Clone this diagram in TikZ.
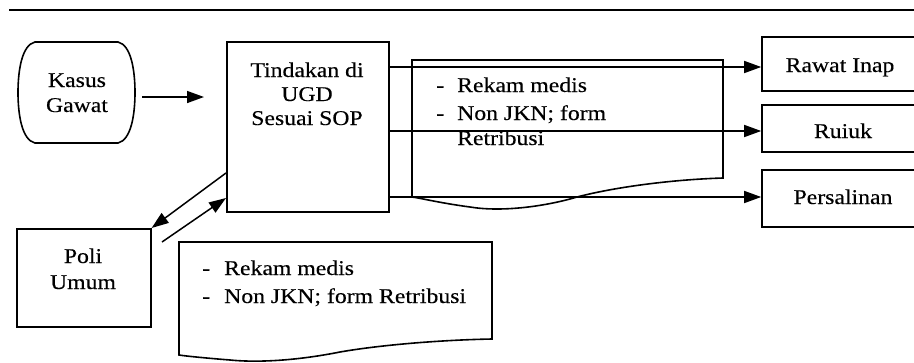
\documentclass[tikz,border=0pt]{standalone}
\usepackage{fontspec}
\setmainfont{Liberation Serif}[FakeStretch=1.13,FakeBold=0.3]
\usetikzlibrary{arrows.meta}
\begin{document}
\begin{tikzpicture}[x=1pt,y=-1pt,
  box/.style={draw, line width=1.6pt, inner sep=0pt},
  arr/.style={-{Triangle[length=17pt,width=12pt]}, line width=1.5pt},
  doc/.style={draw, line width=1.6pt},
  txt/.style={font=\fontsize{21}{24}\selectfont, inner sep=0pt, anchor=base},
  txtl/.style={font=\fontsize{21}{24}\selectfont, inner sep=0pt, anchor=base west}]
\useasboundingbox (0,0) rectangle (914,362);
\clip (0,0) rectangle (914,362);
% top rule
\draw[line width=2pt] (9,10) -- (916,10);

% Kasus Gawat (terminator-like shape)
\node[minimum width=117pt, minimum height=101pt, inner sep=0pt] (kasus) at (76.5,92.5) {};
\draw[line width=1.6pt] (35,42) -- (118,42)
  .. controls (131,45) and (135,70) .. (135,92.5)
  .. controls (135,115) and (131,140) .. (118,143) -- (35,143)
  .. controls (22,140) and (18,115) .. (18,92.5)
  .. controls (18,70) and (22,45) .. (35,42) -- cycle;
\node[txt] (kasus1) at (77,87) {Kasus};
\node[txt] (kasus2) at (77,112) {Gawat};
\coordinate (kasusend) at (204,97);
\draw[arr] ([xshift=7pt]kasus.east |- kasusend) -- (kasusend);

% Tindakan
\node[box, minimum width=162pt, minimum height=170pt, anchor=north west] (tind) at (226,41) {};
\node[txt] (tind1) at (307,77) {Tindakan di};
\node[txt] (tind2) at (307,101) {UGD};
\node[txt] (tind3) at (307,125) {Sesuai SOP};

% middle document
\draw[doc, fill=white] (412,197) -- (412,60) -- (723,60) -- (723,178)
  .. controls (660,180) and (600,190) .. (570,199)
  .. controls (540,207) and (500,212) .. (470,207)
  .. controls (440,203) and (420,198) .. (412,197) -- cycle;
\node[txtl] (m1d) at (436,92) {-};
\node[txtl] (m1) at (457,92) {Rekam medis};
\node[txtl] (m2d) at (436,120) {-};
\node[txtl] (m2) at (457,120) {Non JKN; form};
\node[txtl] (m3) at (457,145) {Retribusi};

% right boxes
\node[box, minimum width=156pt, minimum height=54pt] (rawat) at (840,64) {};
\node[txt] (rawatt) at (840,72) {Rawat Inap};
\node[box, minimum width=156pt, minimum height=47pt] (ruiuk) at (840,128.5) {};
\node[txt] (ruiukt) at (843,138) {Ruiuk};
\node[box, minimum width=156pt, minimum height=57pt] (persal) at (840,198.5) {};
\node[txt] (persalt) at (843,204) {Persalinan};

\draw[arr] (tind.east |- 0,67) -- (rawat.west |- 0,67);
\draw[arr] (tind.east |- 0,131) -- (ruiuk.west |- 0,131);
\draw[arr] (tind.east |- 0,197) -- (persal.west |- 0,197);

% Poli Umum
\node[box, minimum width=134pt, minimum height=98pt, anchor=north west] (poli) at (16,228) {};
\node[txt] (poli1) at (83,263) {Poli};
\node[txt] (poli2) at (83,289) {Umum};

\coordinate (polistart) at (162,242);
\draw[arr] (tind.west |- 0,173) -- (poli.north east);
\draw[arr] (polistart) -- (tind.west |- 0,198);

% bottom document
\draw[doc] (179,355) -- (179,242) -- (492,242) -- (492,339)
  .. controls (440,340) and (380,345) .. (340,352)
  .. controls (300,360) and (260,363) .. (230,360)
  .. controls (205,358) and (185,356) .. (179,355) -- cycle;
\node[txtl] (b1d) at (202,275) {-};
\node[txtl] (b1) at (224,275) {Rekam medis};
\node[txtl] (b2d) at (202,303) {-};
\node[txtl] (b2) at (224,303) {Non JKN; form Retribusi};
\end{tikzpicture}
\end{document}
